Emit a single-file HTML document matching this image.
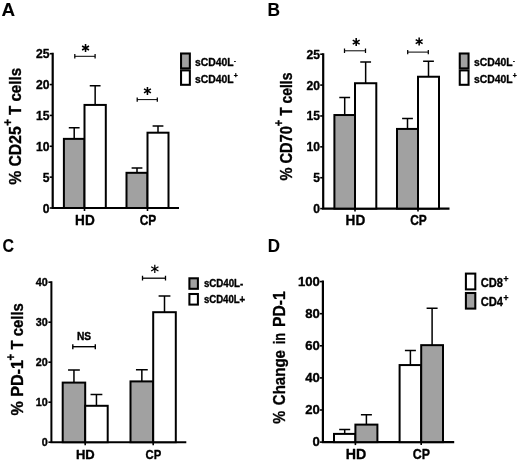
<!DOCTYPE html>
<html><head><meta charset="utf-8"><title>Figure</title>
<style>
html,body{margin:0;padding:0;background:#fff;}
body{width:520px;height:463px;overflow:hidden;}
svg{display:block;will-change:transform;}
svg text{font-family:"Liberation Sans",sans-serif;font-weight:bold;fill:#000;stroke:#000;stroke-width:0.35px;stroke-linejoin:round;}
</style></head><body>
<svg xmlns="http://www.w3.org/2000/svg" width="520" height="463" viewBox="0 0 520 463">
<rect width="520" height="463" fill="#fff"/>
<text x="1.6" y="16.0" font-size="18" text-anchor="start" textLength="13.6" lengthAdjust="spacingAndGlyphs" style="stroke-width:0.1px">A</text>
<path d="M52.7 52.7V208.0M51.6 208.0H179.0" stroke="#000" stroke-width="2.2" fill="none"/>
<path d="M49.7 53.7H52.7" stroke="#000" stroke-width="1.6"/>
<text x="36.1" y="58.2" font-size="12.6" text-anchor="start" textLength="13.5" lengthAdjust="spacingAndGlyphs" >25</text>
<path d="M49.7 84.56H52.7" stroke="#000" stroke-width="1.6"/>
<text x="36.1" y="89.06" font-size="12.6" text-anchor="start" textLength="13.5" lengthAdjust="spacingAndGlyphs" >20</text>
<path d="M49.7 115.42H52.7" stroke="#000" stroke-width="1.6"/>
<text x="36.1" y="119.92" font-size="12.6" text-anchor="start" textLength="13.5" lengthAdjust="spacingAndGlyphs" >15</text>
<path d="M49.7 146.28H52.7" stroke="#000" stroke-width="1.6"/>
<text x="36.1" y="150.78" font-size="12.6" text-anchor="start" textLength="13.5" lengthAdjust="spacingAndGlyphs" >10</text>
<path d="M49.7 177.14H52.7" stroke="#000" stroke-width="1.6"/>
<text x="42.85" y="181.64" font-size="12.6" text-anchor="start" textLength="6.75" lengthAdjust="spacingAndGlyphs" >5</text>
<path d="M49.7 208.0H52.7" stroke="#000" stroke-width="1.6"/>
<text x="42.85" y="212.5" font-size="12.6" text-anchor="start" textLength="6.75" lengthAdjust="spacingAndGlyphs" >0</text>
<path d="M84.5 208.0V211.0" stroke="#000" stroke-width="1.6"/>
<path d="M147.5 208.0V211.0" stroke="#000" stroke-width="1.6"/>
<path d="M74.2 138.87V127.76M68.8 127.76H79.60000000000001" stroke="#000" stroke-width="1.5" fill="none"/>
<path d="M95.15 104.93V85.79M89.75 85.79H100.55000000000001" stroke="#000" stroke-width="1.5" fill="none"/>
<path d="M137.0 172.82V167.88M131.6 167.88H142.4" stroke="#000" stroke-width="1.5" fill="none"/>
<path d="M158.0 132.7V125.91M152.6 125.91H163.4" stroke="#000" stroke-width="1.5" fill="none"/>
<rect x="63.9" y="138.87" width="20.6" height="69.13" fill="#a1a1a1" stroke="#000" stroke-width="2"/>
<rect x="84.5" y="104.93" width="21.3" height="103.07" fill="#fff" stroke="#000" stroke-width="2"/>
<rect x="126.5" y="172.82" width="21.0" height="35.18" fill="#a1a1a1" stroke="#000" stroke-width="2"/>
<rect x="147.5" y="132.7" width="21.0" height="75.3" fill="#fff" stroke="#000" stroke-width="2"/>
<text x="75.1" y="224.8" font-size="14.2" text-anchor="start" textLength="19.6" lengthAdjust="spacingAndGlyphs" >HD</text>
<text x="139.7" y="224.8" font-size="14.2" text-anchor="start" textLength="16.6" lengthAdjust="spacingAndGlyphs" >CP</text>
<g transform="translate(21.0 184.8) rotate(-90)" >
<text x="0" y="0" font-size="15.6" textLength="58.5" lengthAdjust="spacingAndGlyphs" xml:space="preserve">% CD25</text>
<text x="59" y="-8.6" font-size="12.5" textLength="6.8" lengthAdjust="spacingAndGlyphs">+</text>
<text x="65.5" y="0" font-size="15.6" textLength="51.5" lengthAdjust="spacingAndGlyphs" xml:space="preserve"> T cells</text>
</g>
<rect x="181.05" y="53.5" width="8.8" height="14.9" fill="#a1a1a1" stroke="#000" stroke-width="2.05"/>
<rect x="181.05" y="70.4" width="8.8" height="14.4" fill="#fff" stroke="#000" stroke-width="2.05"/>
<text x="194.9" y="66.0" font-size="11.5" text-anchor="start" textLength="38.6" lengthAdjust="spacingAndGlyphs" >sCD40L</text>
<text x="194.9" y="82.8" font-size="11.5" text-anchor="start" textLength="38.6" lengthAdjust="spacingAndGlyphs" >sCD40L</text>
<text x="234.0" y="63.4" font-size="8" text-anchor="start" textLength="1.8" lengthAdjust="spacingAndGlyphs" >-</text>
<text x="233.70000000000002" y="77.9" font-size="7.5" text-anchor="start" textLength="4.0" lengthAdjust="spacingAndGlyphs" >+</text>
<path d="M74.8 56.3H95.1" stroke="#000" stroke-width="1.0" fill="none"/>
<path d="M74.8 54.099999999999994V58.5M95.1 54.099999999999994V58.5" stroke="#000" stroke-width="1.25" fill="none"/>
<path d="M85.55 44.00L85.55 52.00M82.09 46.00L89.01 50.00M89.01 46.00L82.09 50.00" stroke="#000" stroke-width="1.55" fill="none"/>
<path d="M137.2 99.6H157.3" stroke="#000" stroke-width="1.0" fill="none"/>
<path d="M137.2 97.39999999999999V101.8M157.3 97.39999999999999V101.8" stroke="#000" stroke-width="1.25" fill="none"/>
<path d="M147.45 86.90L147.45 94.90M143.99 88.90L150.91 92.90M150.91 88.90L143.99 92.90" stroke="#000" stroke-width="1.55" fill="none"/>
<text x="267.6" y="16.0" font-size="18" text-anchor="start" textLength="12.5" lengthAdjust="spacingAndGlyphs" style="stroke-width:0.1px">B</text>
<path d="M323.2 53.2V208.6M322.09999999999997 208.6H449.5" stroke="#000" stroke-width="2.2" fill="none"/>
<path d="M320.2 54.2H323.2" stroke="#000" stroke-width="1.6"/>
<text x="306.6" y="58.7" font-size="12.6" text-anchor="start" textLength="13.5" lengthAdjust="spacingAndGlyphs" >25</text>
<path d="M320.2 85.08H323.2" stroke="#000" stroke-width="1.6"/>
<text x="306.6" y="89.58" font-size="12.6" text-anchor="start" textLength="13.5" lengthAdjust="spacingAndGlyphs" >20</text>
<path d="M320.2 115.96H323.2" stroke="#000" stroke-width="1.6"/>
<text x="306.6" y="120.46" font-size="12.6" text-anchor="start" textLength="13.5" lengthAdjust="spacingAndGlyphs" >15</text>
<path d="M320.2 146.84H323.2" stroke="#000" stroke-width="1.6"/>
<text x="306.6" y="151.34" font-size="12.6" text-anchor="start" textLength="13.5" lengthAdjust="spacingAndGlyphs" >10</text>
<path d="M320.2 177.72H323.2" stroke="#000" stroke-width="1.6"/>
<text x="313.35" y="182.22" font-size="12.6" text-anchor="start" textLength="6.75" lengthAdjust="spacingAndGlyphs" >5</text>
<path d="M320.2 208.6H323.2" stroke="#000" stroke-width="1.6"/>
<text x="313.35" y="213.1" font-size="12.6" text-anchor="start" textLength="6.75" lengthAdjust="spacingAndGlyphs" >0</text>
<path d="M355.0 208.6V211.6" stroke="#000" stroke-width="1.6"/>
<path d="M418.0 208.6V211.6" stroke="#000" stroke-width="1.6"/>
<path d="M344.7 115.03V97.43M339.3 97.43H350.09999999999997" stroke="#000" stroke-width="1.5" fill="none"/>
<path d="M365.65 83.23V61.92M360.25 61.92H371.04999999999995" stroke="#000" stroke-width="1.5" fill="none"/>
<path d="M407.5 128.93V118.43M402.1 118.43H412.9" stroke="#000" stroke-width="1.5" fill="none"/>
<path d="M428.5 76.74V61.3M423.1 61.3H433.9" stroke="#000" stroke-width="1.5" fill="none"/>
<rect x="334.4" y="115.03" width="20.6" height="93.57" fill="#a1a1a1" stroke="#000" stroke-width="2"/>
<rect x="355.0" y="83.23" width="21.3" height="125.37" fill="#fff" stroke="#000" stroke-width="2"/>
<rect x="397.0" y="128.93" width="21.0" height="79.67" fill="#a1a1a1" stroke="#000" stroke-width="2"/>
<rect x="418.0" y="76.74" width="21.0" height="131.86" fill="#fff" stroke="#000" stroke-width="2"/>
<text x="345.6" y="225.4" font-size="14.2" text-anchor="start" textLength="19.6" lengthAdjust="spacingAndGlyphs" >HD</text>
<text x="410.2" y="225.4" font-size="14.2" text-anchor="start" textLength="16.6" lengthAdjust="spacingAndGlyphs" >CP</text>
<g transform="translate(291.8 180.6) rotate(-90)" >
<text x="0" y="0" font-size="15.6" textLength="54.5" lengthAdjust="spacingAndGlyphs" xml:space="preserve">% CD70</text>
<text x="54.3" y="-8.6" font-size="12.5" textLength="6.4" lengthAdjust="spacingAndGlyphs">+</text>
<text x="61" y="0" font-size="15.6" textLength="47" lengthAdjust="spacingAndGlyphs" xml:space="preserve"> T cells</text>
</g>
<rect x="459.75" y="53.5" width="8.8" height="14.9" fill="#a1a1a1" stroke="#000" stroke-width="2.05"/>
<rect x="459.75" y="70.4" width="8.8" height="14.4" fill="#fff" stroke="#000" stroke-width="2.05"/>
<text x="473.90000000000003" y="66.0" font-size="11.5" text-anchor="start" textLength="38.6" lengthAdjust="spacingAndGlyphs" >sCD40L</text>
<text x="473.90000000000003" y="82.8" font-size="11.5" text-anchor="start" textLength="38.6" lengthAdjust="spacingAndGlyphs" >sCD40L</text>
<text x="513.0" y="63.4" font-size="8" text-anchor="start" textLength="1.8" lengthAdjust="spacingAndGlyphs" >-</text>
<text x="512.7" y="77.9" font-size="7.5" text-anchor="start" textLength="4.0" lengthAdjust="spacingAndGlyphs" >+</text>
<path d="M344.5 50.8H365.5" stroke="#000" stroke-width="1.0" fill="none"/>
<path d="M344.5 48.599999999999994V53.0M365.5 48.599999999999994V53.0" stroke="#000" stroke-width="1.25" fill="none"/>
<path d="M356.20 38.10L356.20 46.10M352.74 40.10L359.66 44.10M359.66 40.10L352.74 44.10" stroke="#000" stroke-width="1.55" fill="none"/>
<path d="M407.7 52.1H428.3" stroke="#000" stroke-width="1.0" fill="none"/>
<path d="M407.7 49.9V54.300000000000004M428.3 49.9V54.300000000000004" stroke="#000" stroke-width="1.25" fill="none"/>
<path d="M419.15 37.60L419.15 45.60M415.69 39.60L422.61 43.60M422.61 39.60L415.69 43.60" stroke="#000" stroke-width="1.55" fill="none"/>
<text x="2.6" y="251.6" font-size="18" text-anchor="start" textLength="11.5" lengthAdjust="spacingAndGlyphs" style="stroke-width:0.1px">C</text>
<path d="M51.4 281.2V442.2M50.3 442.2H186.3" stroke="#000" stroke-width="2.0" fill="none"/>
<path d="M48.4 282.2H51.4" stroke="#000" stroke-width="1.6"/>
<text x="35.7" y="286.3" font-size="10.8" text-anchor="start" textLength="12.0" lengthAdjust="spacingAndGlyphs" >40</text>
<path d="M48.4 322.2H51.4" stroke="#000" stroke-width="1.6"/>
<text x="35.7" y="326.3" font-size="10.8" text-anchor="start" textLength="12.0" lengthAdjust="spacingAndGlyphs" >30</text>
<path d="M48.4 362.2H51.4" stroke="#000" stroke-width="1.6"/>
<text x="35.7" y="366.3" font-size="10.8" text-anchor="start" textLength="12.0" lengthAdjust="spacingAndGlyphs" >20</text>
<path d="M48.4 402.2H51.4" stroke="#000" stroke-width="1.6"/>
<text x="35.7" y="406.3" font-size="10.8" text-anchor="start" textLength="12.0" lengthAdjust="spacingAndGlyphs" >10</text>
<path d="M48.4 442.2H51.4" stroke="#000" stroke-width="1.6"/>
<text x="41.7" y="446.3" font-size="10.8" text-anchor="start" textLength="6.0" lengthAdjust="spacingAndGlyphs" >0</text>
<path d="M85.2 442.2V445.2" stroke="#000" stroke-width="1.6"/>
<path d="M153.2 442.2V445.2" stroke="#000" stroke-width="1.6"/>
<path d="M73.95 382.6V370.0M68.05 370.0H79.85000000000001" stroke="#000" stroke-width="1.5" fill="none"/>
<path d="M96.45 405.8V394.6M90.55 394.6H102.35000000000001" stroke="#000" stroke-width="1.5" fill="none"/>
<path d="M141.85 381.4V369.8M135.95 369.8H147.75" stroke="#000" stroke-width="1.5" fill="none"/>
<path d="M164.5 312.2V296.0M158.6 296.0H170.4" stroke="#000" stroke-width="1.5" fill="none"/>
<rect x="62.7" y="382.6" width="22.5" height="59.6" fill="#a1a1a1" stroke="#000" stroke-width="2"/>
<rect x="85.2" y="405.8" width="22.5" height="36.4" fill="#fff" stroke="#000" stroke-width="2"/>
<rect x="130.5" y="381.4" width="22.7" height="60.8" fill="#a1a1a1" stroke="#000" stroke-width="2"/>
<rect x="153.2" y="312.2" width="22.6" height="130.0" fill="#fff" stroke="#000" stroke-width="2"/>
<text x="75.9" y="458.6" font-size="12.4" text-anchor="start" textLength="18.8" lengthAdjust="spacingAndGlyphs" >HD</text>
<text x="145.6" y="458.6" font-size="12.4" text-anchor="start" textLength="15.7" lengthAdjust="spacingAndGlyphs" >CP</text>
<g transform="translate(23.4 415.6) rotate(-90)" >
<text x="0" y="0" font-size="15.6" textLength="55.5" lengthAdjust="spacingAndGlyphs" xml:space="preserve">% PD-1</text>
<text x="55" y="-8.6" font-size="12.5" textLength="6.6" lengthAdjust="spacingAndGlyphs">+</text>
<text x="62" y="0" font-size="15.6" textLength="50.4" lengthAdjust="spacingAndGlyphs" xml:space="preserve"> T cells</text>
</g>
<rect x="189.4" y="278.3" width="8.5" height="10.5" fill="#a1a1a1" stroke="#000" stroke-width="2.05"/>
<rect x="189.4" y="294.0" width="8.5" height="10.6" fill="#fff" stroke="#000" stroke-width="2.05"/>
<text x="203.9" y="286.9" font-size="10.2" text-anchor="start" textLength="39.4" lengthAdjust="spacingAndGlyphs" >sCD40L-</text>
<text x="203.9" y="302.6" font-size="10.2" text-anchor="start" textLength="41.3" lengthAdjust="spacingAndGlyphs" >sCD40L+</text>
<path d="M72.8 346.7H95.3" stroke="#000" stroke-width="1.4" fill="none"/>
<path d="M72.8 344.2V349.2M95.3 344.2V349.2" stroke="#000" stroke-width="1.4" fill="none"/>
<text x="76.9" y="339.8" font-size="10" text-anchor="start" textLength="14.2" lengthAdjust="spacingAndGlyphs" >NS</text>
<path d="M142.5 278.2H165.5" stroke="#000" stroke-width="1.3" fill="none"/>
<path d="M142.5 275.8V280.59999999999997M165.5 275.8V280.59999999999997" stroke="#000" stroke-width="1.3" fill="none"/>
<path d="M154.80 264.70L154.80 273.10M151.16 266.80L158.44 271.00M158.44 266.80L151.16 271.00" stroke="#000" stroke-width="1.25" fill="none"/>
<text x="267.7" y="251.5" font-size="18" text-anchor="start" textLength="12.2" lengthAdjust="spacingAndGlyphs" style="stroke-width:0.1px">D</text>
<path d="M322.9 280.6V442.1M321.79999999999995 442.1H454.2" stroke="#000" stroke-width="2.2" fill="none"/>
<path d="M319.9 281.6H322.9" stroke="#000" stroke-width="1.6"/>
<text x="297.9" y="285.8" font-size="13.0" text-anchor="start" textLength="21.9" lengthAdjust="spacingAndGlyphs" >100</text>
<path d="M319.9 313.7H322.9" stroke="#000" stroke-width="1.6"/>
<text x="305.2" y="317.9" font-size="13.0" text-anchor="start" textLength="14.6" lengthAdjust="spacingAndGlyphs" >80</text>
<path d="M319.9 345.8H322.9" stroke="#000" stroke-width="1.6"/>
<text x="305.2" y="350.0" font-size="13.0" text-anchor="start" textLength="14.6" lengthAdjust="spacingAndGlyphs" >60</text>
<path d="M319.9 377.9H322.9" stroke="#000" stroke-width="1.6"/>
<text x="305.2" y="382.1" font-size="13.0" text-anchor="start" textLength="14.6" lengthAdjust="spacingAndGlyphs" >40</text>
<path d="M319.9 410.0H322.9" stroke="#000" stroke-width="1.6"/>
<text x="305.2" y="414.2" font-size="13.0" text-anchor="start" textLength="14.6" lengthAdjust="spacingAndGlyphs" >20</text>
<path d="M319.9 442.1H322.9" stroke="#000" stroke-width="1.6"/>
<text x="312.5" y="446.3" font-size="13.0" text-anchor="start" textLength="7.3" lengthAdjust="spacingAndGlyphs" >0</text>
<path d="M355.4 442.1V445.1" stroke="#000" stroke-width="1.6"/>
<path d="M421.2 442.1V445.1" stroke="#000" stroke-width="1.6"/>
<path d="M344.7 433.91V429.58M339.2 429.58H350.2" stroke="#000" stroke-width="1.5" fill="none"/>
<path d="M366.4 424.61V414.65M360.9 414.65H371.9" stroke="#000" stroke-width="1.5" fill="none"/>
<path d="M410.4 365.06V350.62M404.9 350.62H415.9" stroke="#000" stroke-width="1.5" fill="none"/>
<path d="M432.1 345.16V308.24M426.6 308.24H437.6" stroke="#000" stroke-width="1.5" fill="none"/>
<rect x="334.0" y="433.91" width="21.4" height="8.19" fill="#fff" stroke="#000" stroke-width="2"/>
<rect x="355.4" y="424.61" width="22.0" height="17.49" fill="#a1a1a1" stroke="#000" stroke-width="2"/>
<rect x="399.6" y="365.06" width="21.6" height="77.04" fill="#fff" stroke="#000" stroke-width="2"/>
<rect x="421.2" y="345.16" width="21.8" height="96.94" fill="#a1a1a1" stroke="#000" stroke-width="2"/>
<text x="345.7" y="459.4" font-size="14.8" text-anchor="start" textLength="20.5" lengthAdjust="spacingAndGlyphs" >HD</text>
<text x="412.8" y="459.4" font-size="14.8" text-anchor="start" textLength="17.2" lengthAdjust="spacingAndGlyphs" >CP</text>
<g transform="translate(284.5 423.8) rotate(-90)" >
<text x="0" y="0" font-size="16.8" textLength="13" lengthAdjust="spacingAndGlyphs" xml:space="preserve">%</text>
<text x="18.6" y="0" font-size="16.8" textLength="55.2" lengthAdjust="spacingAndGlyphs" xml:space="preserve">Change</text>
<text x="79.6" y="0" font-size="16.8" textLength="11.3" lengthAdjust="spacingAndGlyphs" xml:space="preserve">in</text>
<text x="96.8" y="0" font-size="16.8" textLength="35.6" lengthAdjust="spacingAndGlyphs" xml:space="preserve">PD-1</text>
</g>
<rect x="465.9" y="273.6" width="9.4" height="15.8" fill="#fff" stroke="#000" stroke-width="2.05"/>
<rect x="465.9" y="293.0" width="9.4" height="15.6" fill="#a1a1a1" stroke="#000" stroke-width="2.05"/>
<text x="480.7" y="286.5" font-size="12.8" text-anchor="start" textLength="22.3" lengthAdjust="spacingAndGlyphs" >CD8</text>
<text x="480.7" y="305.8" font-size="12.8" text-anchor="start" textLength="22.3" lengthAdjust="spacingAndGlyphs" >CD4</text>
<text x="503.5" y="281.9" font-size="9" text-anchor="start" textLength="5.0" lengthAdjust="spacingAndGlyphs" >+</text>
<text x="503.5" y="301.4" font-size="9" text-anchor="start" textLength="5.0" lengthAdjust="spacingAndGlyphs" >+</text>
</svg>
</body></html>
